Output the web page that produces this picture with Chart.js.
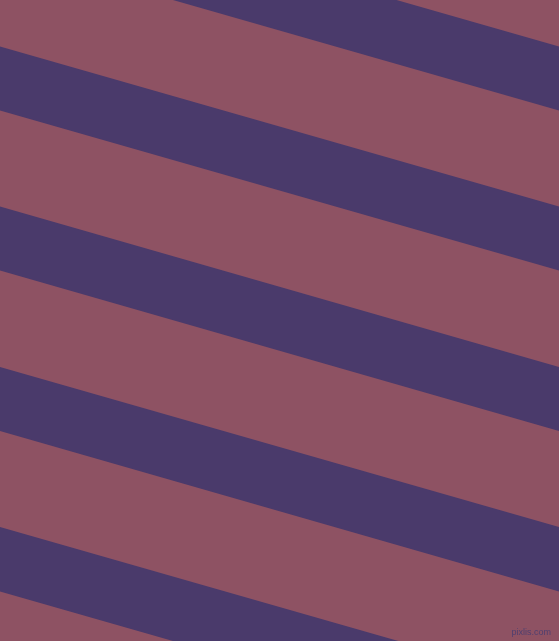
<!DOCTYPE html>
<html>
<head>
<meta charset="utf-8">
<script src="https://cdn.jsdelivr.net/npm/chart.js@4/dist/chart.umd.min.js"></script>
<style>
  html, body { margin: 0; padding: 0; background: #8E5263; overflow: hidden; }
  #wrap { position: relative; width: 559px; height: 641px; }
  #c { display: block; }
  #mark { position: absolute; right: 8px; bottom: 4px; font: 9px "Liberation Sans", Arial, sans-serif; line-height: 9px; color: #4F3F70; }
</style>
</head>
<body>
<div id="wrap">
  <canvas id="c" width="559" height="641"></canvas>
  <div id="mark">pixlis.com</div>
</div>
<script>
// x positions of the two ends of each stripe edge (left and right border of the picture)
const edgeX = [0, 559];
// y of each stripe's upper edge at the left and right border
const upperLeft  = [-113.5, 46.5, 206.5, 367, 527];
const upperRight = [46.5, 206.5, 367, 527, 687];
// y of each stripe's lower edge at the left and right border
const lowerLeft  = [-49.5, 110.5, 270.6, 431, 591.5];
const lowerRight = [110.5, 270.6, 431, 591.5, 751.5];

const bgColor = '#8E5263';
const stripeColor = '#4A3A6B';

const datasets = [];
for (let i = 0; i < upperLeft.length; i++) {
  datasets.push({
    data: [{x: edgeX[0], y: upperLeft[i]}, {x: edgeX[1], y: upperRight[i]}],
    borderWidth: 0, pointRadius: 0, fill: false, borderColor: 'rgba(0,0,0,0)'
  });
  datasets.push({
    data: [{x: edgeX[0], y: lowerLeft[i]}, {x: edgeX[1], y: lowerRight[i]}],
    borderWidth: 0, pointRadius: 0, fill: '-1', borderColor: 'rgba(0,0,0,0)',
    backgroundColor: stripeColor
  });
}

const bgPlugin = {
  id: 'bg',
  beforeDraw(chart) {
    const ctx = chart.ctx;
    ctx.save();
    ctx.fillStyle = bgColor;
    ctx.fillRect(0, 0, chart.width, chart.height);
    ctx.restore();
  }
};

new Chart(document.getElementById('c'), {
  type: 'line',
  data: { datasets },
  options: {
    responsive: false,
    animation: false,
    events: [],
    layout: { padding: 0 },
    plugins: { legend: { display: false }, tooltip: { enabled: false } },
    elements: { line: { tension: 0 } },
    scales: {
      x: { type: 'linear', min: 0, max: 559, display: false },
      y: { type: 'linear', min: 0, max: 641, reverse: true, display: false }
    }
  },
  plugins: [bgPlugin]
});
</script>
</body>
</html>
